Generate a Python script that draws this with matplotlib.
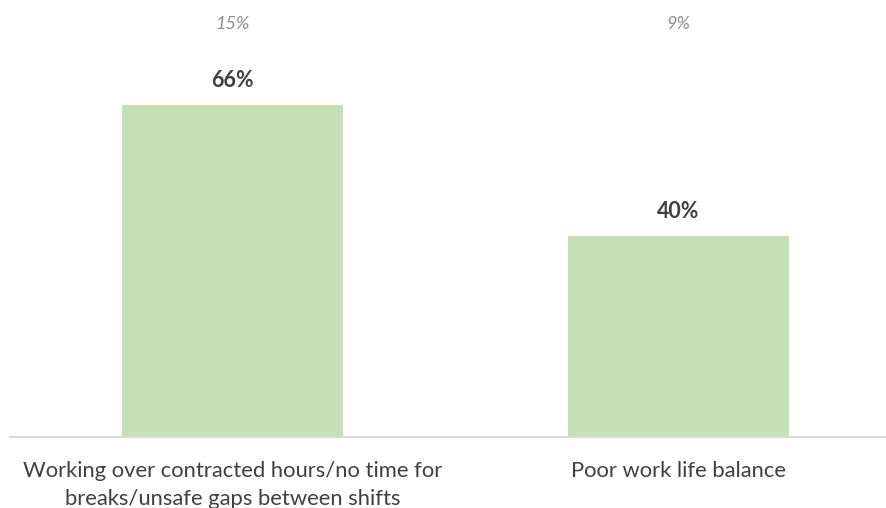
import matplotlib.pyplot as plt

plt.rcParams['font.family'] = ['Lato', 'DejaVu Sans']

categories = ["Working over contracted hours/no time for\nbreaks/unsafe gaps between shifts",
              "Poor work life balance"]
values = [66, 40]
top_labels = ["15%", "9%"]

W, H = 886, 508
fig = plt.figure(figsize=(W / 100, H / 100), dpi=100)
# axes placed in pixel terms: left 10px, right edge at 886px, baseline at y=437
ax = fig.add_axes([10 / W, (H - 437) / H, 876 / W, 402 / H])

x = list(range(len(values)))
ax.bar(x, values, width=0.496, color="#C5E0B4")
ax.set_xlim(-0.499, 1.465)
ax.set_ylim(0, 80)

for xi, v in zip(x, values):
    ax.annotate(f"{v}%", (xi, v), xytext=(0, 18), textcoords="offset points",
                ha="center", va="center", fontsize=15.5, fontweight="bold", color="#404040")

# small italic labels sit above the plotting area
for xi, lab in zip(x, top_labels):
    ax.text(xi, 1.0 + 11 / 402, lab, transform=ax.get_xaxis_transform(), ha="center",
            va="center", fontsize=13, style="italic", color="#8c8c8c")

for s in ["top", "right", "left"]:
    ax.spines[s].set_visible(False)
ax.spines["bottom"].set_color("#d9d9d9")
ax.spines["bottom"].set_linewidth(1.5)
ax.set_yticks([])
ax.set_xticks(x)
ax.set_xticklabels(categories, fontsize=15.8, color="#404040", linespacing=1.55)
ax.tick_params(axis="x", length=0, pad=17)

fig.savefig("out.png", dpi=100)
